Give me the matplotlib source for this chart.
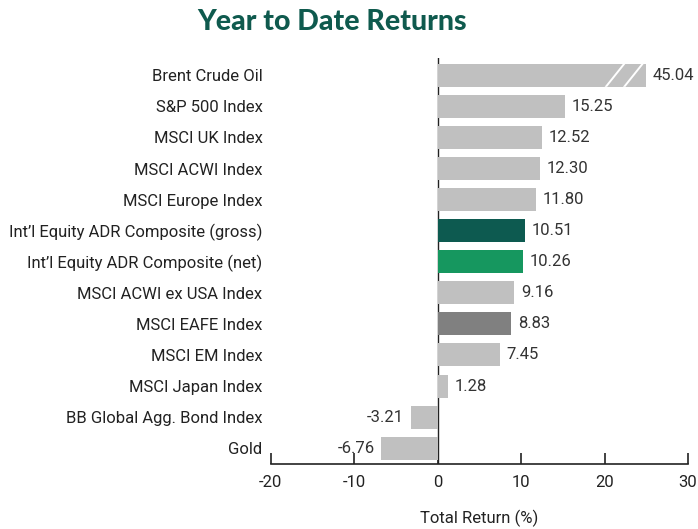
import matplotlib
matplotlib.use("Agg")
import matplotlib.pyplot as plt
from matplotlib import font_manager as fm
import numpy as np

categories = ["Brent Crude Oil", "S&P 500 Index", "MSCI UK Index", "MSCI ACWI Index",
              "MSCI Europe Index", "Int\u2019l Equity ADR Composite (gross)",
              "Int\u2019l Equity ADR Composite (net)", "MSCI ACWI ex USA Index",
              "MSCI EAFE Index", "MSCI EM Index", "MSCI Japan Index",
              "BB Global Agg. Bond Index", "Gold"]
values = [45.04, 15.25, 12.52, 12.30, 11.80, 10.51, 10.26, 9.16, 8.83, 7.45, 1.28, -3.21, -6.76]
value_labels = ["45.04", "15.25", "12.52", "12.30", "11.80", "10.51", "10.26", "9.16",
                "8.83", "7.45", "1.28", "-3.21", "-6.76"]
xticks = [-20, -10, 0, 10, 20, 30]
axis_cap = 25  # Brent bar truncated (broken axis)

names = {f.name for f in fm.fontManager.ttflist}
base = "Roboto" if "Roboto" in names else "Liberation Sans"
plt.rcParams['font.family'] = [base, 'DejaVu Sans']
FS = 12

grey = "#c0c0c0"
colors = [grey] * len(values)
colors[5] = "#0d5a50"
colors[6] = "#16975f"
colors[8] = "#808080"

fig = plt.figure(figsize=(6.98, 5.29), dpi=100)
ax = fig.add_axes([0.388, 0.1229, 0.5977, 0.767])

y = np.arange(len(values))
plot_vals = [min(v, axis_cap) for v in values]
ax.axvline(0, color="#222222", lw=1.0, zorder=1)
ax.barh(y, plot_vals, height=0.74, color=colors, zorder=2)

# break marks on truncated bar
for x0 in (20.0, 22.2):
    ax.fill([x0, x0 + 0.3, x0 + 2.5, x0 + 2.2], [0.37, 0.37, -0.37, -0.37],
            color="white", zorder=3, lw=0)

off = 0.8
for yi, v, pv, lab in zip(y, values, plot_vals, value_labels):
    if v >= 0:
        ax.text(pv + off, yi, lab, va="center", ha="left", fontsize=FS, color="#333333")
    else:
        ax.text(pv - off, yi, lab, va="center", ha="right", fontsize=FS, color="#333333")

ax.set_xlim(-20, 30)
ax.set_ylim(12.51, -0.55)
ax.set_yticks(y)
ax.set_yticklabels(categories, fontsize=FS, color="#222222")
ax.tick_params(axis="y", length=0, pad=6)
ax.set_xticks(xticks)
ax.set_xticklabels([str(t) for t in xticks], fontsize=FS, color="#222222")
ax.tick_params(axis="x", direction="in", length=8, width=1.2, color="#222222", pad=8)
for s in ("left", "right", "top"):
    ax.spines[s].set_visible(False)
ax.spines["bottom"].set_color("#222222")
ax.spines["bottom"].set_linewidth(1.2)
ax.set_xlabel("Total Return (%)", fontsize=FS, color="#222222", labelpad=14)

title_font = "Lato" if "Lato" in names else "DejaVu Sans"
fig.text(0.476, 0.958, "Year to Date Returns", ha="center", va="center",
         fontsize=20.5, fontweight="black", color="#0f5a4e", family=[title_font, "DejaVu Sans"])

fig.savefig("out.png", dpi=100)
